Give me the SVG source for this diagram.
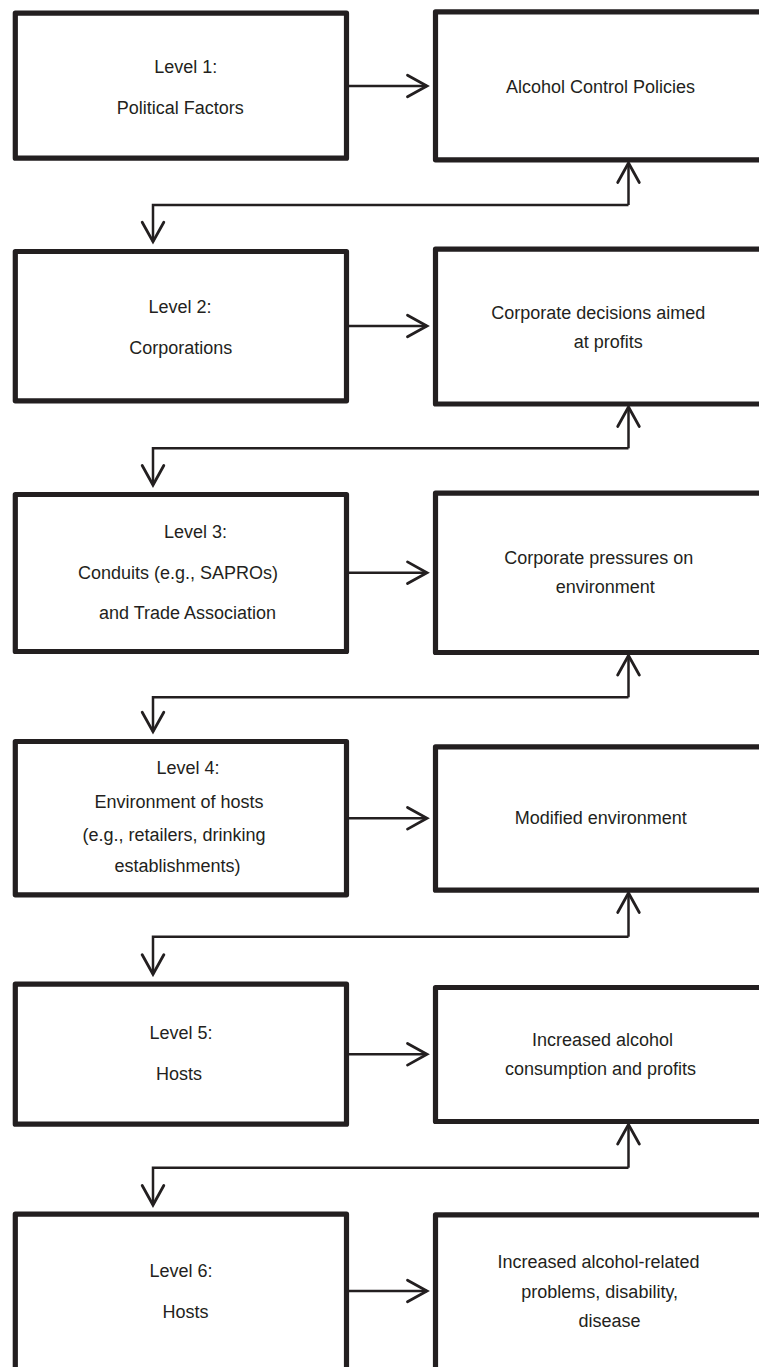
<svg xmlns="http://www.w3.org/2000/svg" width="759" height="1367" viewBox="0 0 759 1367">
<style>
  .box { fill: #ffffff; stroke: #231f20; stroke-width: 5.2; stroke-linejoin: round; }
  .conn { fill: none; stroke: #231f20; stroke-width: 2.5; }
  .head { fill: none; stroke: #231f20; stroke-width: 2.8; stroke-linecap: round; stroke-linejoin: miter; }
  text { font-family: "Liberation Sans", Arial, sans-serif; font-size: 18px; fill: #231f20; text-anchor: middle; }
</style>
<defs>
  <marker id="arrow" markerUnits="userSpaceOnUse" viewBox="-23 -14 26 28" markerWidth="26" markerHeight="28" refX="0" refY="0" orient="auto">
    <path class="head" d="M-19.5,-10.8 L0,0 L-19.5,10.8"/>
  </marker>
</defs>
<rect width="759" height="1367" fill="#ffffff"/>

<g id="connectors">
  <!-- horizontal level arrows -->
  <path class="conn" d="M349,86 H427" marker-end="url(#arrow)"/>
  <path class="conn" d="M349,326 H427" marker-end="url(#arrow)"/>
  <path class="conn" d="M349,572.7 H427" marker-end="url(#arrow)"/>
  <path class="conn" d="M349,818.3 H427" marker-end="url(#arrow)"/>
  <path class="conn" d="M349,1054.3 H427" marker-end="url(#arrow)"/>
  <path class="conn" d="M349,1291 H427" marker-end="url(#arrow)"/>
  <!-- feedback loops: right box up-arrow, line, down-arrow into next level -->
  <path class="conn" d="M628.5,205 V163" marker-end="url(#arrow)"/>
  <path class="conn" d="M628.5,205 H153 V241.7" marker-end="url(#arrow)"/>
  <path class="conn" d="M628.5,448.3 V407" marker-end="url(#arrow)"/>
  <path class="conn" d="M628.5,448.3 H153 V485" marker-end="url(#arrow)"/>
  <path class="conn" d="M628.5,697.3 V655.5" marker-end="url(#arrow)"/>
  <path class="conn" d="M628.5,697.3 H153 V731.7" marker-end="url(#arrow)"/>
  <path class="conn" d="M628.5,936.7 V893" marker-end="url(#arrow)"/>
  <path class="conn" d="M628.5,936.7 H153 V974.3" marker-end="url(#arrow)"/>
  <path class="conn" d="M628.5,1167.7 V1124.5" marker-end="url(#arrow)"/>
  <path class="conn" d="M628.5,1167.7 H153 V1205" marker-end="url(#arrow)"/>
</g>

<g id="level1">
  <rect class="box" x="15.3" y="13.2" width="331.2" height="145"/>
  <text x="185.8" y="73.3">Level 1:</text>
  <text x="180.3" y="114.3">Political Factors</text>
</g>
<g id="outcome1">
  <rect class="box" x="435.5" y="11.8" width="340" height="148"/>
  <text x="600.5" y="92.7">Alcohol Control Policies</text>
</g>

<g id="level2">
  <rect class="box" x="15.3" y="251.5" width="331.2" height="149.3"/>
  <text x="180" y="312.7">Level 2:</text>
  <text x="180.7" y="354">Corporations</text>
</g>
<g id="outcome2">
  <rect class="box" x="435.5" y="249.2" width="340" height="154.8"/>
  <text x="598.3" y="319">Corporate decisions aimed</text>
  <text x="608.3" y="347.7">at profits</text>
</g>

<g id="level3">
  <rect class="box" x="15.3" y="494.5" width="331.2" height="157"/>
  <text x="195.5" y="537.7">Level 3:</text>
  <text x="178" y="579">Conduits (e.g., SAPROs)</text>
  <text x="187.5" y="619.3">and Trade Association</text>
</g>
<g id="outcome3">
  <rect class="box" x="435.5" y="493.2" width="340" height="159.3"/>
  <text x="598.7" y="564">Corporate pressures on</text>
  <text x="605.2" y="592.7">environment</text>
</g>

<g id="level4">
  <rect class="box" x="15.3" y="741.5" width="331.2" height="153.3"/>
  <text x="188" y="774.3">Level 4:</text>
  <text x="179" y="807.7">Environment of hosts</text>
  <text x="174" y="840.5">(e.g., retailers, drinking</text>
  <text x="177.5" y="871.7">establishments)</text>
</g>
<g id="outcome4">
  <rect class="box" x="435.5" y="746.8" width="340" height="143.4"/>
  <text x="600.7" y="824">Modified environment</text>
</g>

<g id="level5">
  <rect class="box" x="15.3" y="984.2" width="331.2" height="140"/>
  <text x="181" y="1039">Level 5:</text>
  <text x="179" y="1080">Hosts</text>
</g>
<g id="outcome5">
  <rect class="box" x="435.5" y="987.5" width="340" height="134"/>
  <text x="602.5" y="1046">Increased alcohol</text>
  <text x="600.5" y="1075">consumption and profits</text>
</g>

<g id="level6">
  <rect class="box" x="15.3" y="1214.2" width="331.2" height="170"/>
  <text x="181" y="1277.3">Level 6:</text>
  <text x="185.5" y="1317.7">Hosts</text>
</g>
<g id="outcome6">
  <rect class="box" x="435.5" y="1214.8" width="340" height="170"/>
  <text x="598.5" y="1268.3">Increased alcohol-related</text>
  <text x="599.7" y="1298.3">problems, disability,</text>
  <text x="609.5" y="1326.7">disease</text>
</g>
</svg>
